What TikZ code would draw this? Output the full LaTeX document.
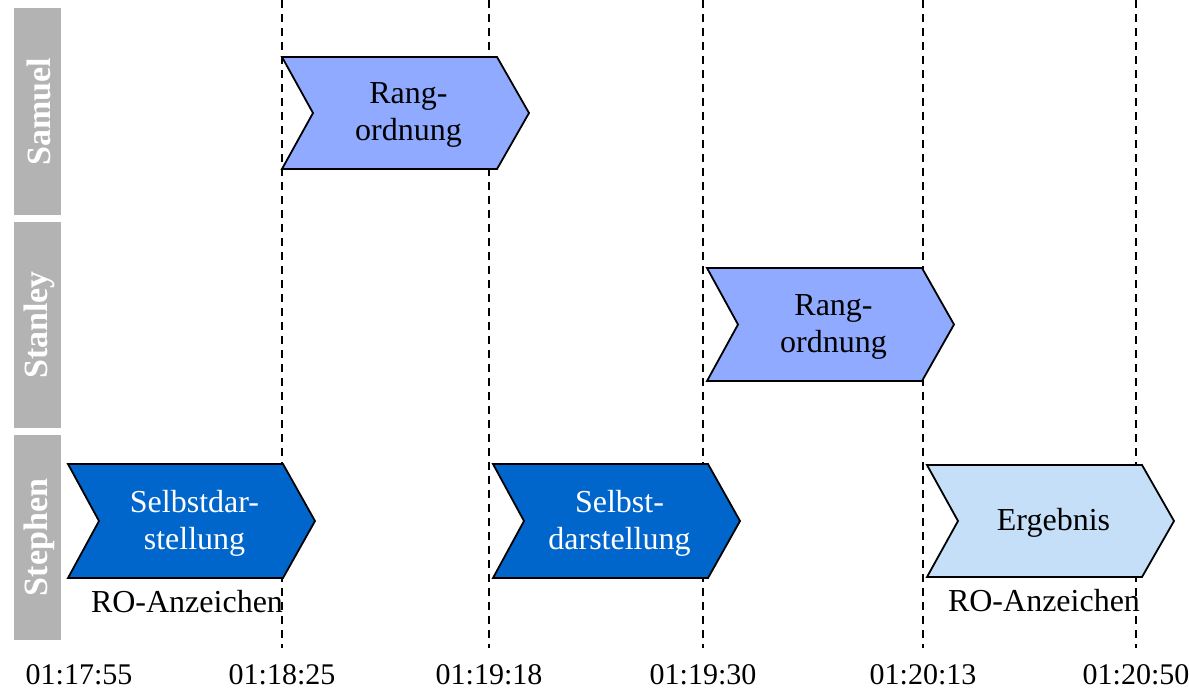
\documentclass[tikz,border=0pt]{standalone}
\usepackage{fontspec}
\setmainfont{Liberation Serif}
\begin{document}
\begin{tikzpicture}[x=1pt,y=-1pt,
  lane/.style={fill=laneGray,draw=none},
  lanetext/.style={text=white,font=\fontsize{34}{36}\selectfont\bfseries,rotate=90},
  grid/.style={dashed,dash pattern=on 8pt off 6pt,line width=1.8pt},
  stage/.style={draw=black,line width=1.8pt,line join=miter},
  stagetext/.style={font=\fontsize{32}{37}\selectfont,align=center},
  note/.style={font=\fontsize{32}{35}\selectfont,inner sep=0pt,anchor=base},
  tick/.style={font=\fontsize{30}{32}\selectfont,inner sep=0pt,anchor=base}]
\definecolor{laneGray}{HTML}{B3B3B3}
\definecolor{midBlue}{HTML}{8FAAFF}
\definecolor{deepBlue}{HTML}{0066CC}
\definecolor{paleBlue}{HTML}{C5DFF8}
\useasboundingbox (0,0) rectangle (1189,694);

% swim lanes
\fill[lane] (14,8) rectangle (61,215);
\fill[lane] (14,222) rectangle (61,428);
\fill[lane] (14,435) rectangle (61,640);
\node[lanetext] (samuel) at (39,111.5) {Samuel};
\node[lanetext] (stanley) at (39,325) {Stanley};
\node[lanetext] (stephen) at (39,537.5) {Stephen};

% time marks
\foreach \x/\n in {282/t1,489/t2,703/t3,923/t4,1136/t5}{
  \coordinate (\n top) at (\x,0);
  \coordinate (\n bot) at (\x,648);
  \draw[grid] (\n top) -- (\n bot);
}

% chevron stage: left x, top y, bottom y, body right x, fill, name
\newcommand{\chev}[6]{%
  \draw[stage,fill=#5] (#1,#2) -- (#4,#2) -- ({#4+32},{(#2+#3)/2}) -- (#4,#3)
     -- (#1,#3) -- ({#1+31},{(#2+#3)/2}) -- cycle;
  \coordinate (#6) at ({(#1+#4)/2+19},{(#2+#3)/2+2});}

\chev{282}{57}{169}{497}{midBlue}{sam}
\node[stagetext] (samT) at (sam) {Rang-\\ordnung};
\chev{707}{268}{381}{922}{midBlue}{stan}
\node[stagetext] (stanT) at (stan) {Rang-\\ordnung};
\chev{68}{464}{578}{283}{deepBlue}{steA}
\node[stagetext,text=white] (steAT) at (steA) {Selbstdar-\\stellung};
\chev{493}{464}{578}{708}{deepBlue}{steB}
\node[stagetext,text=white] (steBT) at (steB) {Selbst-\\darstellung};
\chev{927}{465}{577}{1142}{paleBlue}{erg}
\node[stagetext] (ergT) at (erg) {Ergebnis};

% annotations
\node[note] (roA) at (187,612) {RO-Anzeichen};
\node[note] (roB) at (1044,611) {RO-Anzeichen};

% time labels
\node[tick] (l0) at (79,684) {01:17:55};
\node[tick] (l1) at (282,684) {01:18:25};
\node[tick] (l2) at (489,684) {01:19:18};
\node[tick] (l3) at (703,684) {01:19:30};
\node[tick] (l4) at (923,684) {01:20:13};
\node[tick] (l5) at (1136,684) {01:20:50};
\end{tikzpicture}
\end{document}
